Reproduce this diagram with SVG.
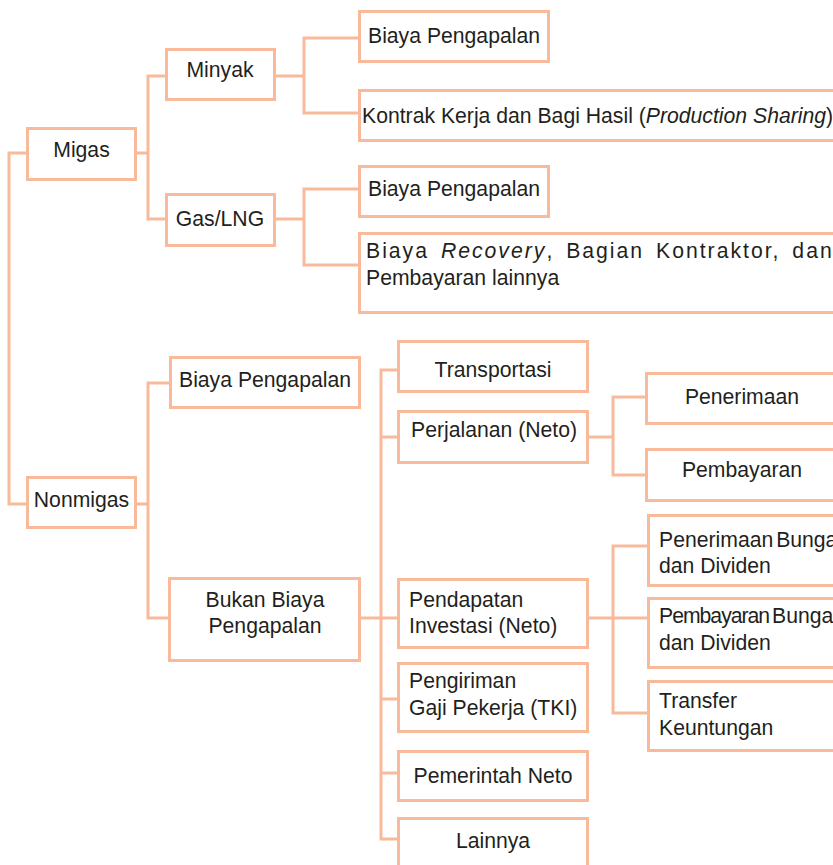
<svg xmlns="http://www.w3.org/2000/svg" width="833" height="865" viewBox="0 0 833 865">
  <style>
    .box { fill: #ffffff; stroke: #F9B99B; stroke-width: 3; }
    .link { fill: none; stroke: #F9B99B; stroke-width: 3; stroke-linejoin: miter; stroke-linecap: square; }
    text { font-family: "Liberation Sans", Arial, sans-serif; font-size: 21.2px; fill: #231F20; }
    .c { text-anchor: middle; }
    .i { font-style: italic; }
  </style>
  <rect width="833" height="865" fill="#ffffff"/>

  <!-- connectors -->
  <g id="connectors">
    <path class="link" d="M27,153 H9 V504 H27"/>
    <path class="link" d="M137,153 H148 M166,76 H148 V219 H166"/>
    <path class="link" d="M276,76 H304 M358,38 H304 V113 H358"/>
    <path class="link" d="M276,219 H304 M358,189 H304 V265 H358"/>
    <path class="link" d="M137,504 H148 M169,383 H148 V618 H169"/>
    <path class="link" d="M361,618 H397 M397,370 H381 V839 H397 M381,437 H397 M381,699 H397 M381,773 H397"/>
    <path class="link" d="M589,437 H613 M645,397 H613 V475 H645"/>
    <path class="link" d="M589,618 H647 M647,546 H613 V713 H647"/>
  </g>

  <!-- Migas branch -->
  <g id="migas">
    <rect class="box" x="27.5" y="128.5" width="108" height="51"/>
    <text class="c" x="81.5" y="157">Migas</text>
  </g>
  <g id="minyak">
    <rect class="box" x="166.5" y="49.5" width="108" height="50"/>
    <text class="c" x="220" y="77">Minyak</text>
  </g>
  <g id="gas-lng">
    <rect class="box" x="166.5" y="194.5" width="108" height="51"/>
    <text class="c" x="220" y="226">Gas/LNG</text>
  </g>
  <g id="minyak-pengapalan">
    <rect class="box" x="359.5" y="11.5" width="189" height="50"/>
    <text x="368" y="43">Biaya Pengapalan</text>
  </g>
  <g id="kontrak">
    <rect class="box" x="359.5" y="90.5" width="490" height="50"/>
    <text x="362" y="123">Kontrak Kerja dan Bagi Hasil (<tspan class="i">Production Sharing</tspan>)</text>
  </g>
  <g id="gas-pengapalan">
    <rect class="box" x="359.5" y="166.5" width="189" height="50"/>
    <text x="368" y="196">Biaya Pengapalan</text>
  </g>
  <g id="recovery">
    <rect class="box" x="359.5" y="233.5" width="490" height="79"/>
    <text x="366" y="258" letter-spacing="2" word-spacing="4">Biaya <tspan class="i">Recovery</tspan>, Bagian Kontraktor, dan</text>
    <text x="366" y="285">Pembayaran lainnya</text>
  </g>

  <!-- Nonmigas branch -->
  <g id="nonmigas">
    <rect class="box" x="27.5" y="477.5" width="108" height="50"/>
    <text class="c" x="81.5" y="507">Nonmigas</text>
  </g>
  <g id="nonmigas-pengapalan">
    <rect class="box" x="170.5" y="357.5" width="189" height="50"/>
    <text class="c" x="265" y="387">Biaya Pengapalan</text>
  </g>
  <g id="bukan-pengapalan">
    <rect class="box" x="169.5" y="578.5" width="190" height="82"/>
    <text class="c" x="265" y="607">Bukan Biaya</text>
    <text class="c" x="265" y="633">Pengapalan</text>
  </g>
  <g id="transportasi">
    <rect class="box" x="398.5" y="341.5" width="189" height="50"/>
    <text class="c" x="493" y="377">Transportasi</text>
  </g>
  <g id="perjalanan">
    <rect class="box" x="398.5" y="411.5" width="189" height="51"/>
    <text x="411" y="437">Perjalanan (Neto)</text>
  </g>
  <g id="pendapatan-investasi">
    <rect class="box" x="398.5" y="579.5" width="189" height="68"/>
    <text x="409" y="607">Pendapatan</text>
    <text x="409" y="633">Investasi (Neto)</text>
  </g>
  <g id="pengiriman-gaji">
    <rect class="box" x="398.5" y="663.5" width="189" height="68"/>
    <text x="409" y="688">Pengiriman</text>
    <text x="409" y="715">Gaji Pekerja (TKI)</text>
  </g>
  <g id="pemerintah">
    <rect class="box" x="398.5" y="751.5" width="189" height="49"/>
    <text class="c" x="493" y="783">Pemerintah Neto</text>
  </g>
  <g id="lainnya">
    <rect class="box" x="398.5" y="818.5" width="189" height="60"/>
    <text class="c" x="493" y="848">Lainnya</text>
  </g>
  <g id="penerimaan">
    <rect class="box" x="646.5" y="373.5" width="200" height="50"/>
    <text class="c" x="742" y="404">Penerimaan</text>
  </g>
  <g id="pembayaran">
    <rect class="box" x="646.5" y="449.5" width="200" height="51"/>
    <text class="c" x="742" y="477">Pembayaran</text>
  </g>
  <g id="penerimaan-bunga">
    <rect class="box" x="648.5" y="515.5" width="200" height="70"/>
    <text x="659" y="547" word-spacing="-3">Penerimaan Bunga</text>
    <text x="659" y="573">dan Dividen</text>
  </g>
  <g id="pembayaran-bunga">
    <rect class="box" x="648.5" y="598.5" width="200" height="69"/>
    <text x="659" y="623" word-spacing="-3"><tspan letter-spacing="-1">Pembayaran</tspan> Bunga</text>
    <text x="659" y="650">dan Dividen</text>
  </g>
  <g id="transfer-keuntungan">
    <rect class="box" x="648.5" y="681.5" width="200" height="69"/>
    <text x="659" y="708">Transfer</text>
    <text x="659" y="735">Keuntungan</text>
  </g>
</svg>
